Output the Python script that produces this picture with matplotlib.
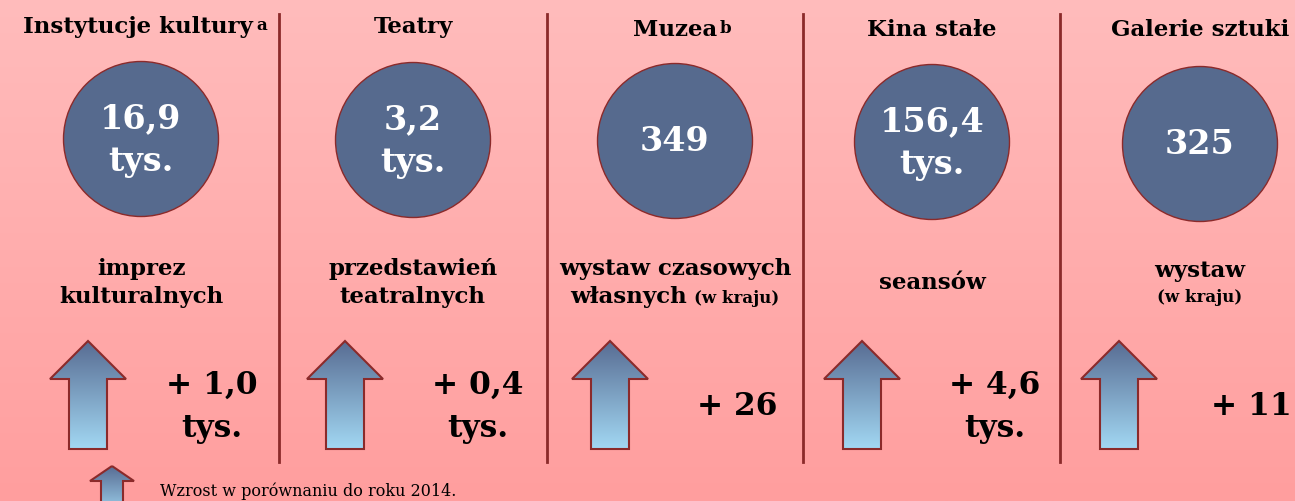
import numpy as np
import matplotlib
matplotlib.use("Agg")
import matplotlib.pyplot as plt
from matplotlib.patches import Circle, Polygon
from matplotlib.offsetbox import TextArea, HPacker, VPacker, AnnotationBbox

categories = ["Instytucje kultury", "Teatry", "Muzea", "Kina stałe", "Galerie sztuki"]
footnotes = ["a", "", "b", "", ""]
values = ["16,9", "3,2", "349", "156,4", "325"]
units = ["tys.", "tys.", "", "tys.", ""]
desc_lines = [
    [["imprez"], ["kulturalnych"]],
    [["przedstawień"], ["teatralnych"]],
    [["wystaw czasowych"], ["własnych", "(w kraju)"]],
    [["seansów"]],
    [["wystaw"], [None, "(w kraju)"]],
]
changes = ["+ 1,0", "+ 0,4", "+ 26", "+ 4,6", "+ 11"]
change_units = ["tys.", "tys.", "", "tys.", ""]
legend_text = "Wzrost w porównaniu do roku 2014."

W, H = 1295, 502
FONT = "DejaVu Serif"
DARK = "#8B2A2A"
CIRCLE = "#566A8E"

col_x = [138, 413, 675, 932, 1200]
title_y = [27, 27, 30, 30, 30]
circle_y = [140, 141, 142, 143, 145]
arrow_x = [88, 345, 610, 862, 1119]
change_x = [212, 478, 737, 995, 1251]
dividers = [279, 547, 803, 1060]

fig = plt.figure(figsize=(W / 100, H / 100), dpi=100)
ax = fig.add_axes([0, 0, 1, 1])
ax.set_xlim(0, W)
ax.set_ylim(H, 0)
ax.axis("off")

# background gradient
top = np.array([255, 188, 188]) / 255
bot = np.array([255, 158, 158]) / 255
t = np.linspace(0, 1, 256)[:, None]
grad = top * (1 - t) + bot * t
ax.imshow(grad[:, None, :].repeat(2, axis=1), extent=[0, W, H, 0], aspect="auto", zorder=0)

for x in dividers:
    ax.plot([x, x], [15, 463], color=DARK, lw=2, zorder=1)


def up_arrow(cx, ytop, hw, sw, hh, length):
    pts = [(cx, ytop), (cx + hw, ytop + hh), (cx + sw, ytop + hh), (cx + sw, ytop + length),
           (cx - sw, ytop + length), (cx - sw, ytop + hh), (cx - hw, ytop + hh)]
    c1 = np.array([0x58, 0x6C, 0x93]) / 255
    c2 = np.array([0xA2, 0xD8, 0xF3]) / 255
    g = np.linspace(0, 1, 128)[:, None]
    img = (c1 * (1 - g) + c2 * g)[:, None, :].repeat(2, axis=1)
    poly = Polygon(pts, closed=True, facecolor="none", edgecolor=DARK, lw=1.5, zorder=4)
    ax.add_patch(poly)
    im = ax.imshow(img, extent=[cx - hw, cx + hw, ytop + length, ytop], aspect="auto", zorder=3)
    im.set_clip_path(poly)


fig.canvas.draw()
renderer = fig.canvas.get_renderer()

for i, cat in enumerate(categories):
    cx = col_x[i]
    # title
    tt = ax.text(cx, title_y[i], cat, ha="center", va="center", fontsize=16.5, fontweight="bold",
                 family=FONT, color="black", zorder=5)
    if footnotes[i]:
        bb = tt.get_window_extent(renderer)
        xr = ax.transData.inverted().transform((bb.x1, bb.y1))
        ax.text(xr[0] + 3, xr[1] + 1, footnotes[i], ha="left", va="top", fontsize=12,
                fontweight="bold", family=FONT, zorder=5)

    # circle
    ccx = col_x[i] + 3 if i == 0 else col_x[i]
    ax.add_patch(Circle((ccx, circle_y[i]), 77.5, facecolor=CIRCLE, edgecolor=DARK, lw=1, zorder=2))
    label = values[i] + ("\n" + units[i] if units[i] else "")
    ax.text(ccx, circle_y[i], label, ha="center", va="center", fontsize=24, fontweight="bold",
            family=FONT, color="white", linespacing=1.35, zorder=5)

    # description
    rows = []
    for line in desc_lines[i]:
        parts = []
        if line[0]:
            parts.append(TextArea(line[0], textprops=dict(fontsize=16.5, fontweight="bold", family=FONT)))
        if len(line) > 1:
            parts.append(TextArea(line[1], textprops=dict(fontsize=12, fontweight="bold", family=FONT)))
        rows.append(HPacker(children=parts, align="baseline", pad=0, sep=5))
    box = VPacker(children=rows, align="center", pad=0, sep=5)
    ab = AnnotationBbox(box, (ccx, 283), xycoords="data", frameon=False, box_alignment=(0.5, 0.5), zorder=5)
    ax.add_artist(ab)

    # arrow + change
    up_arrow(arrow_x[i], 342, 38, 19, 38, 108)
    ch = changes[i] + ("\n" + change_units[i] if change_units[i] else "")
    ax.text(change_x[i], 407, ch, ha="center", va="center", fontsize=22.5, fontweight="bold",
            family=FONT, linespacing=1.5, zorder=5)

# legend
up_arrow(112, 467, 22, 11, 15, 50)
ax.text(160, 491, legend_text, ha="left", va="center", fontsize=11.5, family=FONT, zorder=5)

fig.savefig("out.png", dpi=100)
